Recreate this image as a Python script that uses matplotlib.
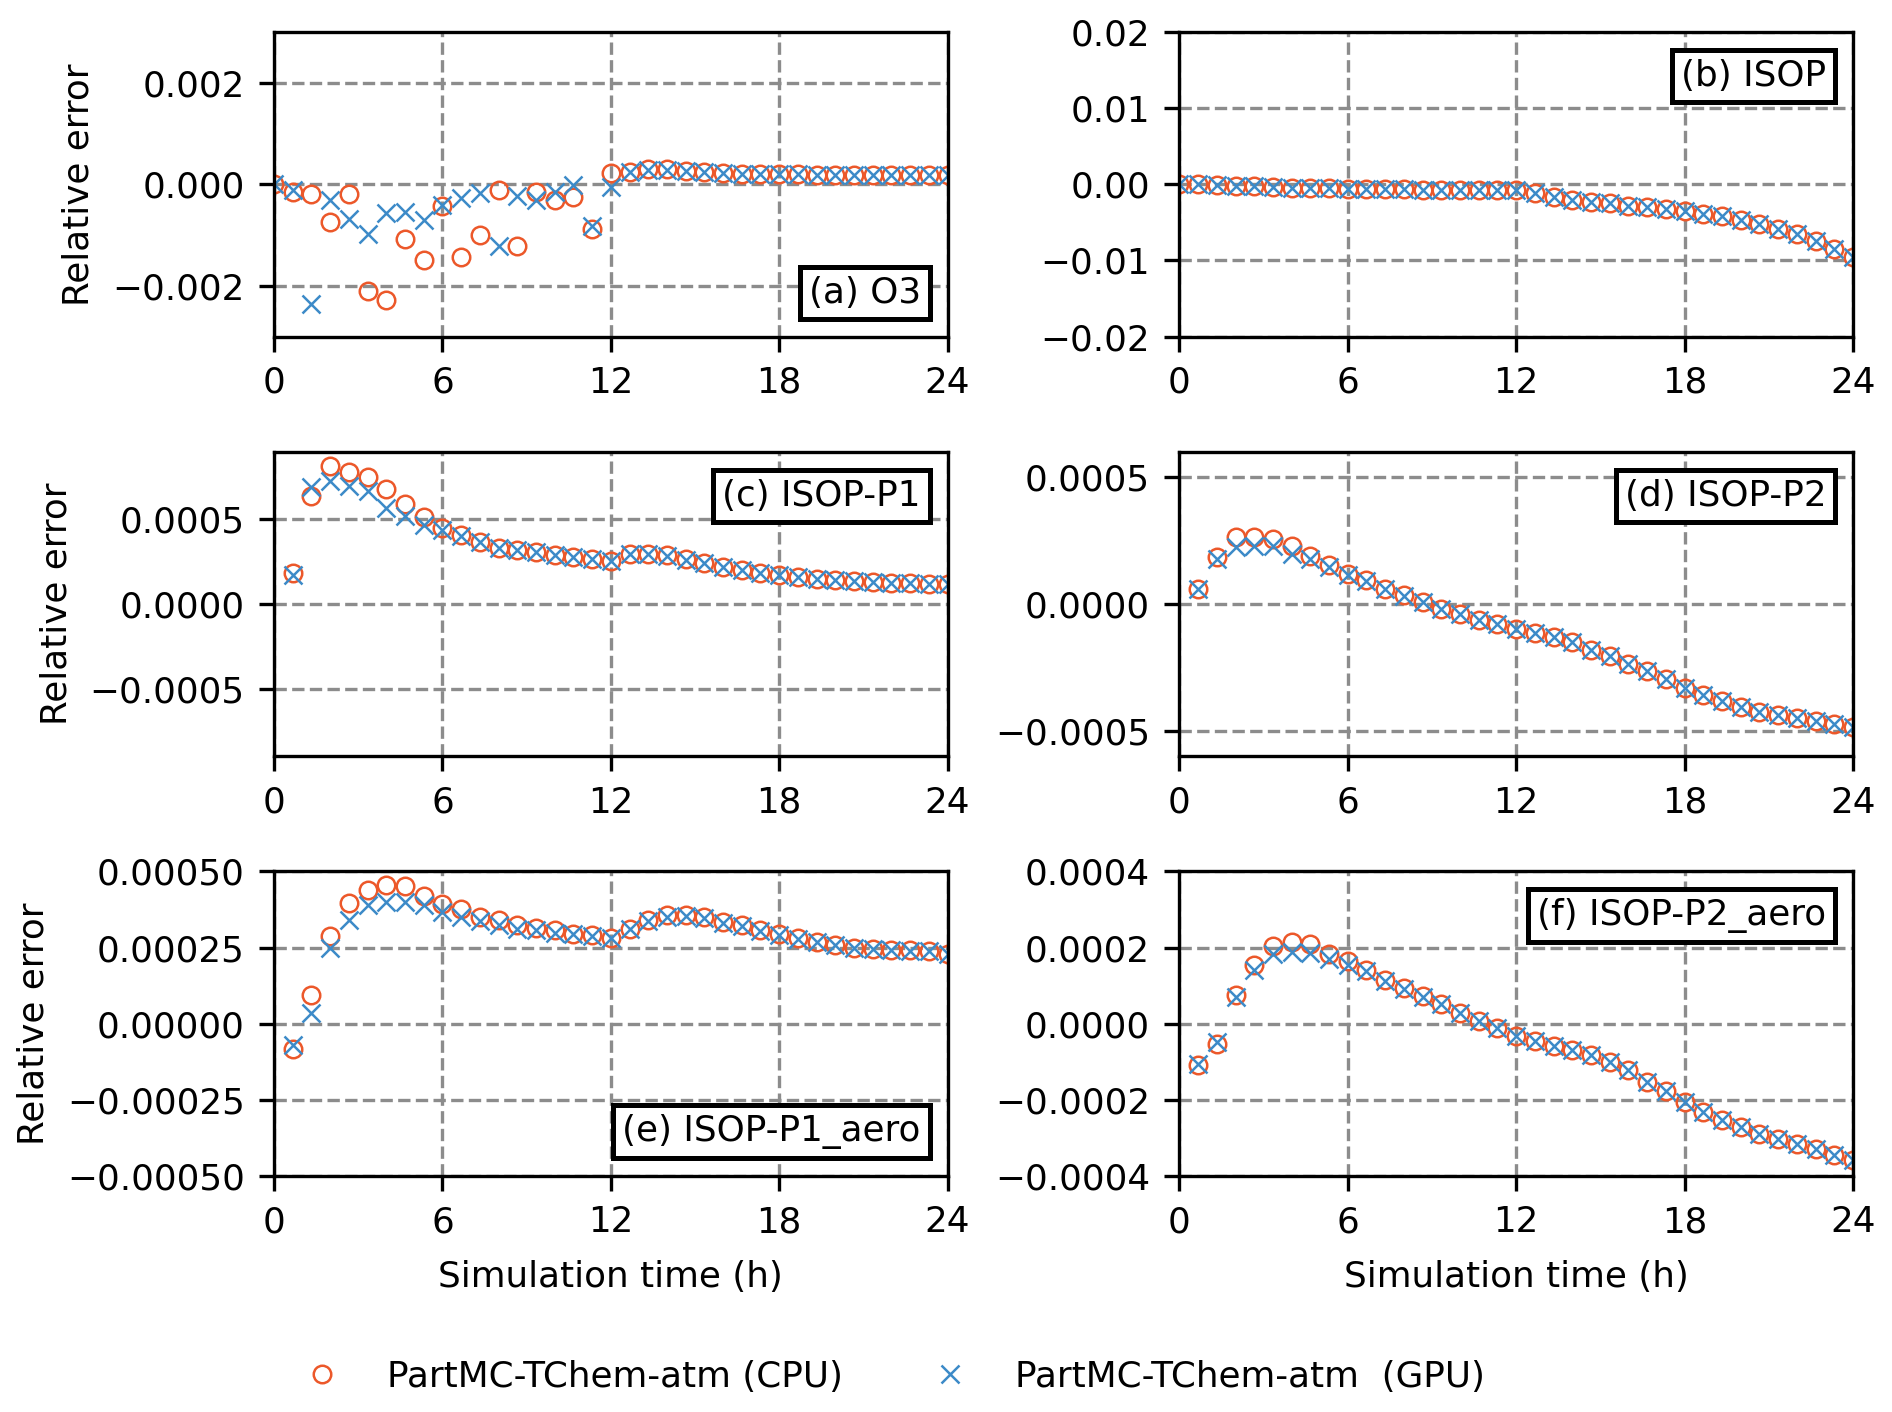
import numpy as np
import matplotlib
matplotlib.use("Agg")
from matplotlib import pyplot as plt
from matplotlib.offsetbox import AnchoredText

plt.rcParams['font.family'] = ['DejaVu Sans']
plt.rcParams['font.size'] = 8.6

# output every 40 min over 24 h
hours = np.arange(37) * 24 / 36
hours_late = hours[1:]  # species starting from zero have no value at t=0

o3_cpu = [0.0, -0.00016, -0.0002, -0.00075, -0.0002, -0.0021, -0.00227, -0.00107, -0.00149,
          -0.00043, -0.00143, -0.001, -0.00012, -0.00121, -0.00015, -0.00031, -0.00024, -0.00087,
          0.00022, 0.00025, 0.0003, 0.0003, 0.00027, 0.00024, 0.00022, 0.00021, 0.0002,
          0.0002, 0.0002, 0.00019, 0.00019, 0.00019, 0.00019, 0.00018, 0.00018, 0.00018, 0.00018]
o3_gpu = [0.0, -0.00012, -0.00236, -0.0003, -0.00069, -0.00098, -0.00057, -0.00054, -0.0007,
          -0.00041, -0.00026, -0.00018, -0.00122, -0.00023, -0.00031, -0.00016, -0.00001, -0.00083,
          -0.00006, 0.00024, 0.00028, 0.00028, 0.00026, 0.00024, 0.00022, 0.00021, 0.0002,
          0.0002, 0.0002, 0.00019, 0.00019, 0.00019, 0.00019, 0.00018, 0.00018, 0.00018, 0.00018]

isop_cpu = [0.0, 0.0, -0.00005, -0.0002, -0.00026, -0.00035, -0.00044, -0.0005, -0.00053,
            -0.00057, -0.0006, -0.0006, -0.00066, -0.0007, -0.0007, -0.00075, -0.00075, -0.00075,
            -0.0008, -0.0012, -0.0016, -0.002, -0.0023, -0.0025, -0.0028, -0.003, -0.0033,
            -0.0035, -0.0039, -0.0042, -0.0047, -0.0052, -0.0058, -0.0065, -0.0074, -0.0085, -0.0096]
isop_gpu = [0.0, 0.0, -0.00005, -0.0002, -0.00026, -0.00035, -0.00044, -0.0005, -0.00053,
            -0.00057, -0.0006, -0.0006, -0.00066, -0.0007, -0.0007, -0.00075, -0.00075, -0.00075,
            -0.0008, -0.0012, -0.0016, -0.002, -0.0023, -0.0025, -0.0028, -0.003, -0.0033,
            -0.0035, -0.0039, -0.0042, -0.0047, -0.0052, -0.0058, -0.0065, -0.0074, -0.0085, -0.0096]

p1_cpu = [0.000183, 0.000636, 0.000813, 0.000778, 0.00075, 0.000677, 0.000593, 0.000514, 0.00045,
          0.00041, 0.000366, 0.000333, 0.000317, 0.000307, 0.000287, 0.000278, 0.000268, 0.000254,
          0.000293, 0.000297, 0.000287, 0.000264, 0.000242, 0.000219, 0.000203, 0.000185, 0.000169,
          0.000159, 0.00015, 0.000144, 0.000138, 0.000132, 0.000126, 0.000122, 0.00012, 0.000116]
p1_gpu = [0.00017, 0.00069, 0.00073, 0.0007, 0.00067, 0.00057, 0.00052, 0.00047, 0.000435,
          0.0004, 0.000366, 0.000333, 0.000317, 0.000305, 0.000287, 0.000278, 0.000268, 0.000256,
          0.000295, 0.000297, 0.000286, 0.000263, 0.000241, 0.000219, 0.000203, 0.000185, 0.000169,
          0.000159, 0.00015, 0.000144, 0.000138, 0.000132, 0.000126, 0.000122, 0.00012, 0.000116]

p2_cpu = [0.0000577, 0.000187, 0.000263, 0.000263, 0.000257, 0.000227, 0.000191, 0.000152, 0.000119,
          0.000093, 0.00006, 0.000034, 0.000008, -0.000018, -0.00004, -0.000062, -0.00008, -0.0001,
          -0.000114, -0.00013, -0.00015, -0.00018, -0.000206, -0.000235, -0.000265, -0.000296, -0.000329,
          -0.000359, -0.000383, -0.000405, -0.000425, -0.000438, -0.00045, -0.00046, -0.000474, -0.000486]
p2_gpu = [0.0000577, 0.000178, 0.000224, 0.000227, 0.000227, 0.000198, 0.000178, 0.000145, 0.000113,
          0.00009, 0.000058, 0.000033, 0.000008, -0.000018, -0.00004, -0.000062, -0.00008, -0.0001,
          -0.000114, -0.00013, -0.00015, -0.00018, -0.000206, -0.000235, -0.000265, -0.000296, -0.000329,
          -0.000359, -0.000383, -0.000405, -0.000425, -0.000438, -0.00045, -0.00046, -0.000474, -0.000486]

p1_aero_cpu = [-0.000084, 0.000094, 0.000287, 0.000397, 0.00044, 0.000457, 0.000451, 0.000421, 0.000394,
               0.000378, 0.00035, 0.00034, 0.000323, 0.000314, 0.000307, 0.000296, 0.00029, 0.00028,
               0.000312, 0.00034, 0.000356, 0.000356, 0.00035, 0.000334, 0.000323, 0.000307, 0.000294,
               0.00028, 0.000269, 0.000258, 0.00025, 0.000247, 0.000243, 0.000241, 0.000239, 0.00023]
p1_aero_gpu = [-0.00007, 0.000034, 0.00025, 0.00034, 0.000389, 0.0004, 0.0004, 0.000389, 0.000367,
               0.00035, 0.000337, 0.000323, 0.000312, 0.000307, 0.000298, 0.000294, 0.000287, 0.000283,
               0.000312, 0.000337, 0.000352, 0.000354, 0.000348, 0.000332, 0.000321, 0.000305, 0.000292,
               0.000279, 0.000268, 0.000257, 0.000249, 0.000246, 0.000242, 0.00024, 0.000238, 0.00023]

p2_aero_cpu = [-0.000108, -0.000054, 0.000075, 0.000154, 0.000203, 0.000215, 0.000209, 0.000184, 0.000164,
               0.000141, 0.000114, 0.000093, 0.000072, 0.000052, 0.000029, 0.000008, -0.000012, -0.000031,
               -0.000045, -0.000059, -0.000069, -0.000082, -0.0001, -0.000121, -0.000152, -0.000176, -0.000206,
               -0.000231, -0.000252, -0.00027, -0.000289, -0.000303, -0.000315, -0.000329, -0.000344, -0.000358]
p2_aero_gpu = [-0.000106, -0.000047, 0.00007, 0.000141, 0.000184, 0.000189, 0.000186, 0.000171, 0.000155,
               0.000138, 0.000112, 0.000091, 0.000071, 0.000051, 0.000029, 0.000008, -0.000012, -0.000031,
               -0.000045, -0.000059, -0.000069, -0.000082, -0.0001, -0.000121, -0.000152, -0.000176, -0.000206,
               -0.000231, -0.000252, -0.00027, -0.000289, -0.000303, -0.000315, -0.000329, -0.000344, -0.000358]

panel_labels = ['(a) O3', '(b) ISOP', '(c) ISOP-P1', '(d) ISOP-P2', '(e) ISOP-P1_aero', '(f) ISOP-P2_aero']
label_locs = ['lower right', 'upper right', 'upper right', 'upper right', 'lower right', 'upper right']
y_limits = [0.003, 0.02, 0.0009, 0.0006, 0.0005, 0.0004]
y_ticks = [[-0.002, 0, 0.002],
           [-0.02, -0.01, 0, 0.01, 0.02],
           [-0.0005, 0, 0.0005],
           [-0.0005, 0, 0.0005],
           [-0.0005, -0.00025, 0, 0.00025, 0.0005],
           [-0.0004, -0.0002, 0, 0.0002, 0.0004]]
x_ticks = [0, 6, 12, 18, 24]

panels = [(hours, o3_cpu, o3_gpu), (hours, isop_cpu, isop_gpu),
          (hours_late, p1_cpu, p1_gpu), (hours_late, p2_cpu, p2_gpu),
          (hours_late, p1_aero_cpu, p1_aero_gpu), (hours_late, p2_aero_cpu, p2_aero_gpu)]

cpu_color = '#ec582a'
gpu_color = '#3c8ac8'

fig = plt.figure(figsize=(1892 / 300, 1412 / 300), dpi=300)
gs = fig.add_gridspec(3, 2, left=0.1448, right=0.9794, top=0.9773, bottom=0.1671,
                      wspace=0.344, hspace=0.378)

for i, (t, cpu, gpu) in enumerate(panels):
    ax = fig.add_subplot(gs[i // 2, i % 2])
    l1, = ax.plot(t, cpu, 'o', ms=4.2, mfc='none', mec=cpu_color, mew=0.6, ls='none',
                  label='PartMC-TChem-atm (CPU)')
    l2, = ax.plot(t, gpu, 'x', ms=4.4, color=gpu_color, mew=0.6, ls='none',
                  label='PartMC-TChem-atm  (GPU)')
    ax.set_xlim(0, 24)
    ax.set_ylim(-y_limits[i], y_limits[i])
    ax.set_xticks(x_ticks)
    ax.set_yticks(y_ticks[i])
    ax.grid(True, ls='--', lw=0.8, color='#8c8c8c')
    ax.set_axisbelow(True)

    at = AnchoredText(panel_labels[i], loc=label_locs[i], prop=dict(size=8.6),
                      pad=0.25, borderpad=0.5, frameon=True)
    at.patch.set_boxstyle('square', pad=0)
    at.patch.set_linewidth(1.2)
    at.patch.set_edgecolor('black')
    ax.add_artist(at)

    if i % 2 == 0:
        ax.set_ylabel('Relative error')
    if i >= 4:
        ax.set_xlabel('Simulation time (h)', labelpad=5)

fig.legend(handles=[l1, l2], loc='center', bbox_to_anchor=(0.468, 0.025), ncol=2,
           frameon=False, columnspacing=2.0, fontsize=8.6)

fig.savefig('out.png', dpi=300)
